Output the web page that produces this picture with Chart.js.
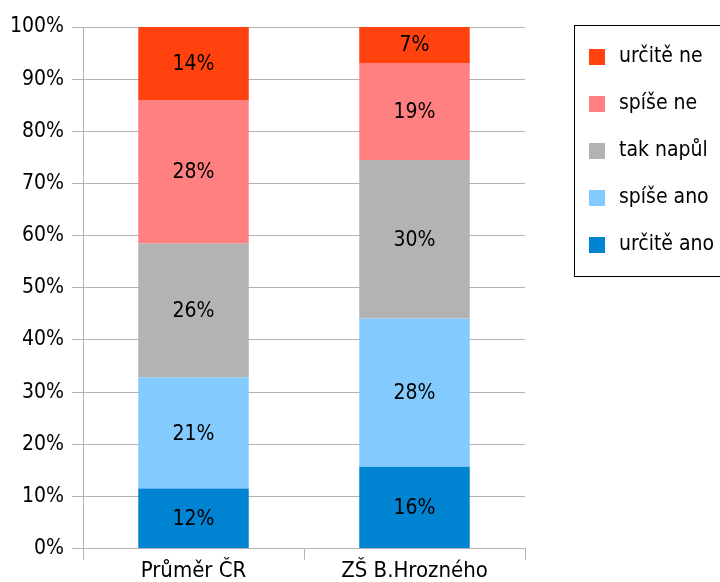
<!DOCTYPE html>
<html>
<head>
<meta charset="utf-8">
<script src="https://cdn.jsdelivr.net/npm/chart.js@4"></script>
<style>
html,body{margin:0;padding:0;background:#fff;}
#wrap{width:720px;height:582px;}
</style>
</head>
<body>
<div id="wrap"><canvas id="c" width="720" height="582"></canvas></div>
<script>
const categories = ["Průměr ČR", "ZŠ B.Hrozného"];
const seriesNames = ["určitě ano", "spíše ano", "tak napůl", "spíše ne", "určitě ne"];
const urciteAno = [11.5, 15.7];
const spiseAno = [21.3, 28.4];
const takNapul = [25.7, 30.4];
const spiseNe = [27.5, 18.6];
const urciteNe = [14.0, 6.9];
const yTicks = [0, 10, 20, 30, 40, 50, 60, 70, 80, 90, 100];
const colors = ["#0084D1", "#83CAFF", "#B3B3B3", "#FF8080", "#FF420E"];

const FONT = "'DejaVu Sans Condensed', 'DejaVu Sans', sans-serif";
const seriesValues = [urciteAno, spiseAno, takNapul, spiseNe, urciteNe];

const datasets = seriesNames.map((n, i) => ({
  label: n,
  data: seriesValues[i],
  backgroundColor: colors[i],
  borderWidth: 0,
  barPercentage: 0.5,
  categoryPercentage: 1.0
}));

const labelPlugin = {
  id: 'segLabels',
  afterDatasetsDraw(chart) {
    const ctx = chart.ctx;
    ctx.save();
    ctx.font = "21px " + FONT;
    ctx.fillStyle = "#000";
    ctx.textAlign = "center";
    ctx.textBaseline = "middle";
    chart.data.datasets.forEach((ds, di) => {
      const meta = chart.getDatasetMeta(di);
      meta.data.forEach((bar, i) => {
        const y = (bar.y + bar.base) / 2;
        ctx.fillText(Math.round(ds.data[i]) + "%", bar.x, y + 1);
      });
    });
    ctx.restore();
  }
};

const legendPlugin = {
  id: 'boxLegend',
  afterDraw(chart) {
    const ctx = chart.ctx;
    ctx.save();
    const x0 = 574, y0 = 25, w = 160, h = 251;
    ctx.strokeStyle = "#000";
    ctx.lineWidth = 1;
    ctx.strokeRect(x0 + 0.5, y0 + 0.5, w, h);
    ctx.font = "21px " + FONT;
    ctx.textBaseline = "middle";
    ctx.textAlign = "left";
    const n = chart.data.datasets.length;
    for (let k = 0; k < n; k++) {
      const ds = chart.data.datasets[n - 1 - k];
      const cy = 57 + k * 47;
      ctx.fillStyle = ds.backgroundColor;
      ctx.fillRect(589, cy - 8, 16, 16);
      ctx.fillStyle = "#000";
      ctx.fillText(ds.label, 619, cy);
    }
    ctx.restore();
  }
};

new Chart(document.getElementById('c'), {
  type: 'bar',
  data: { labels: categories, datasets },
  options: {
    responsive: false,
    animation: false,
    layout: { padding: { left: 2, right: 195, top: 27, bottom: 0 } },
    plugins: { legend: { display: false }, tooltip: { enabled: false } },
    scales: {
      x: {
        stacked: true,
        grid: { display: true, drawOnChartArea: false, drawTicks: true, tickLength: 11, color: "#b3b3b3", offset: true },
        border: { display: true, color: "#b3b3b3" },
        ticks: { color: "#000", font: { family: FONT, size: 22, lineHeight: 1.2 }, padding: -2 }
      },
      y: {
        stacked: true,
        min: 0, max: 100,
        afterBuildTicks(axis) { axis.ticks = yTicks.map(v => ({ value: v })); },
        grid: { color: "#b3b3b3", tickLength: 11 },
        border: { display: true, color: "#b3b3b3" },
        ticks: { color: "#000", font: { family: FONT, size: 21 }, padding: 8, callback: v => v + "%" }
      }
    }
  },
  plugins: [labelPlugin, legendPlugin]
});
</script>
</body>
</html>
